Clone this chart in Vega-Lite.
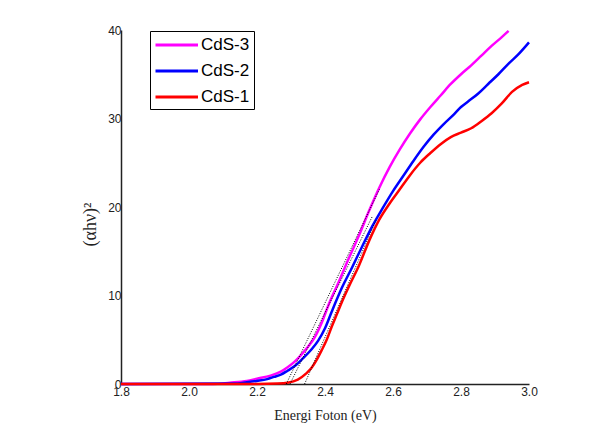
{
  "$schema": "https://vega.github.io/schema/vega-lite/v6.json",
  "width": 408,
  "height": 354,
  "autosize": {"type": "none"},
  "padding": {"left": 121, "top": 30, "right": 81, "bottom": 55},
  "background": "white",
  "config": {
    "view": {"stroke": null},
    "axis": {"grid": false, "ticks": false, "domainColor": "#222", "domainWidth": 1.5, "labelColor": "#222", "titleColor": "#222", "labelFont": "Liberation Sans", "titleFont": "Liberation Serif", "titleFontWeight": "normal", "labelFontSize": 12, "titleFontSize": 14}
  },
  "datasets": {
    "curves": [
      {"E": 1.80, "v": 0, "s": "CdS-3"},
      {"E": 2.07, "v": 0, "s": "CdS-3"},
      {"E": 2.12, "v": 0.15, "s": "CdS-3"},
      {"E": 2.17, "v": 0.35, "s": "CdS-3"},
      {"E": 2.20, "v": 0.6, "s": "CdS-3"},
      {"E": 2.24, "v": 0.95, "s": "CdS-3"},
      {"E": 2.27, "v": 1.4, "s": "CdS-3"},
      {"E": 2.29, "v": 1.9, "s": "CdS-3"},
      {"E": 2.31, "v": 2.5, "s": "CdS-3"},
      {"E": 2.33, "v": 3.3, "s": "CdS-3"},
      {"E": 2.35, "v": 4.2, "s": "CdS-3"},
      {"E": 2.37, "v": 5.3, "s": "CdS-3"},
      {"E": 2.39, "v": 6.9, "s": "CdS-3"},
      {"E": 2.41, "v": 8.9, "s": "CdS-3"},
      {"E": 2.44, "v": 11.5, "s": "CdS-3"},
      {"E": 2.47, "v": 14.2, "s": "CdS-3"},
      {"E": 2.50, "v": 16.8, "s": "CdS-3"},
      {"E": 2.53, "v": 19.6, "s": "CdS-3"},
      {"E": 2.56, "v": 22.2, "s": "CdS-3"},
      {"E": 2.59, "v": 24.5, "s": "CdS-3"},
      {"E": 2.62, "v": 26.5, "s": "CdS-3"},
      {"E": 2.65, "v": 28.3, "s": "CdS-3"},
      {"E": 2.68, "v": 29.9, "s": "CdS-3"},
      {"E": 2.71, "v": 31.3, "s": "CdS-3"},
      {"E": 2.74, "v": 32.6, "s": "CdS-3"},
      {"E": 2.77, "v": 33.9, "s": "CdS-3"},
      {"E": 2.80, "v": 35.0, "s": "CdS-3"},
      {"E": 2.83, "v": 36.0, "s": "CdS-3"},
      {"E": 2.86, "v": 37.1, "s": "CdS-3"},
      {"E": 2.89, "v": 38.2, "s": "CdS-3"},
      {"E": 2.92, "v": 39.2, "s": "CdS-3"},
      {"E": 2.94, "v": 39.9, "s": "CdS-3"},
      {"E": 1.80, "v": 0, "s": "CdS-2"},
      {"E": 2.13, "v": 0.05, "s": "CdS-2"},
      {"E": 2.17, "v": 0.2, "s": "CdS-2"},
      {"E": 2.20, "v": 0.35, "s": "CdS-2"},
      {"E": 2.23, "v": 0.55, "s": "CdS-2"},
      {"E": 2.25, "v": 0.8, "s": "CdS-2"},
      {"E": 2.27, "v": 1.05, "s": "CdS-2"},
      {"E": 2.29, "v": 1.5, "s": "CdS-2"},
      {"E": 2.31, "v": 2.0, "s": "CdS-2"},
      {"E": 2.335, "v": 2.9, "s": "CdS-2"},
      {"E": 2.36, "v": 3.9, "s": "CdS-2"},
      {"E": 2.38, "v": 4.9, "s": "CdS-2"},
      {"E": 2.40, "v": 6.3, "s": "CdS-2"},
      {"E": 2.42, "v": 8.2, "s": "CdS-2"},
      {"E": 2.45, "v": 10.9, "s": "CdS-2"},
      {"E": 2.48, "v": 13.2, "s": "CdS-2"},
      {"E": 2.51, "v": 15.6, "s": "CdS-2"},
      {"E": 2.54, "v": 17.9, "s": "CdS-2"},
      {"E": 2.57, "v": 19.9, "s": "CdS-2"},
      {"E": 2.60, "v": 21.8, "s": "CdS-2"},
      {"E": 2.63, "v": 23.5, "s": "CdS-2"},
      {"E": 2.66, "v": 25.2, "s": "CdS-2"},
      {"E": 2.69, "v": 26.8, "s": "CdS-2"},
      {"E": 2.72, "v": 28.2, "s": "CdS-2"},
      {"E": 2.75, "v": 29.4, "s": "CdS-2"},
      {"E": 2.78, "v": 30.5, "s": "CdS-2"},
      {"E": 2.80, "v": 31.3, "s": "CdS-2"},
      {"E": 2.82, "v": 31.9, "s": "CdS-2"},
      {"E": 2.85, "v": 32.8, "s": "CdS-2"},
      {"E": 2.88, "v": 33.9, "s": "CdS-2"},
      {"E": 2.91, "v": 35.0, "s": "CdS-2"},
      {"E": 2.94, "v": 36.2, "s": "CdS-2"},
      {"E": 2.97, "v": 37.3, "s": "CdS-2"},
      {"E": 3.00, "v": 38.6, "s": "CdS-2"},
      {"E": 1.80, "v": 0, "s": "CdS-1"},
      {"E": 2.20, "v": 0, "s": "CdS-1"},
      {"E": 2.26, "v": 0.05, "s": "CdS-1"},
      {"E": 2.29, "v": 0.15, "s": "CdS-1"},
      {"E": 2.32, "v": 0.5, "s": "CdS-1"},
      {"E": 2.345, "v": 1.2, "s": "CdS-1"},
      {"E": 2.36, "v": 1.8, "s": "CdS-1"},
      {"E": 2.375, "v": 2.7, "s": "CdS-1"},
      {"E": 2.39, "v": 3.8, "s": "CdS-1"},
      {"E": 2.405, "v": 5.0, "s": "CdS-1"},
      {"E": 2.42, "v": 6.5, "s": "CdS-1"},
      {"E": 2.435, "v": 7.9, "s": "CdS-1"},
      {"E": 2.45, "v": 9.3, "s": "CdS-1"},
      {"E": 2.47, "v": 11.0, "s": "CdS-1"},
      {"E": 2.50, "v": 13.4, "s": "CdS-1"},
      {"E": 2.53, "v": 16.2, "s": "CdS-1"},
      {"E": 2.56, "v": 18.6, "s": "CdS-1"},
      {"E": 2.59, "v": 20.4, "s": "CdS-1"},
      {"E": 2.62, "v": 22.0, "s": "CdS-1"},
      {"E": 2.65, "v": 23.6, "s": "CdS-1"},
      {"E": 2.68, "v": 25.0, "s": "CdS-1"},
      {"E": 2.71, "v": 26.1, "s": "CdS-1"},
      {"E": 2.74, "v": 27.1, "s": "CdS-1"},
      {"E": 2.77, "v": 27.9, "s": "CdS-1"},
      {"E": 2.80, "v": 28.4, "s": "CdS-1"},
      {"E": 2.83, "v": 28.9, "s": "CdS-1"},
      {"E": 2.86, "v": 29.7, "s": "CdS-1"},
      {"E": 2.89, "v": 30.6, "s": "CdS-1"},
      {"E": 2.92, "v": 31.7, "s": "CdS-1"},
      {"E": 2.95, "v": 33.0, "s": "CdS-1"},
      {"E": 2.98, "v": 33.8, "s": "CdS-1"},
      {"E": 3.00, "v": 34.1, "s": "CdS-1"}
    ],
    "tangents": [
      {"E": 2.286, "v": 0, "t": "T3"},
      {"E": 2.56, "v": 22, "t": "T3"},
      {"E": 2.297, "v": 0, "t": "T2"},
      {"E": 2.54, "v": 19, "t": "T2"},
      {"E": 2.34, "v": 0, "t": "T1"},
      {"E": 2.55, "v": 18.5, "t": "T1"}
    ]
  },
  "layer": [
    {
      "data": {"name": "curves"},
      "mark": {"type": "line", "strokeWidth": 2.5, "interpolate": "monotone"},
      "encoding": {
        "x": {"field": "E", "type": "quantitative", "scale": {"domain": [1.8, 3.0], "nice": false, "zero": false},
          "axis": {"title": "Energi Foton (eV)", "values": [1.8, 2.0, 2.2, 2.4, 2.6, 2.8, 3.0], "format": ".1f", "labelPadding": 2, "titlePadding": 11, "labelFlush": false}},
        "y": {"field": "v", "type": "quantitative", "scale": {"domain": [0, 40], "nice": false},
          "axis": {"title": "(αhν)²", "values": [0, 10, 20, 30, 40], "format": "d", "labelPadding": 0, "titleFontSize": 18, "titleAngle": -90, "titleX": -31, "titleY": 194, "titleAlign": "center", "titleBaseline": "middle"}},
        "color": {"field": "s", "type": "nominal", "sort": ["CdS-3", "CdS-2", "CdS-1"],
          "scale": {"domain": ["CdS-3", "CdS-2", "CdS-1"], "range": ["#ff00ff", "#0000ff", "#ff0000"]},
          "legend": {"title": null, "orient": "none", "legendX": 29, "legendY": 1, "strokeColor": "black", "fillColor": "white", "padding": 4, "symbolType": "M-1,0H4", "symbolSize": 289, "symbolStrokeWidth": 3, "labelFontSize": 17, "labelFont": "Liberation Sans", "labelColor": "black", "labelOffset": 27, "rowPadding": 8}},
        "order": {"field": "E", "type": "quantitative"}
      }
    },
    {
      "data": {"name": "tangents"},
      "mark": {"type": "line", "strokeWidth": 1, "strokeDash": [1, 1.5], "color": "black"},
      "encoding": {
        "x": {"field": "E", "type": "quantitative"},
        "y": {"field": "v", "type": "quantitative"},
        "detail": {"field": "t", "type": "nominal"}
      }
    }
  ]
}
